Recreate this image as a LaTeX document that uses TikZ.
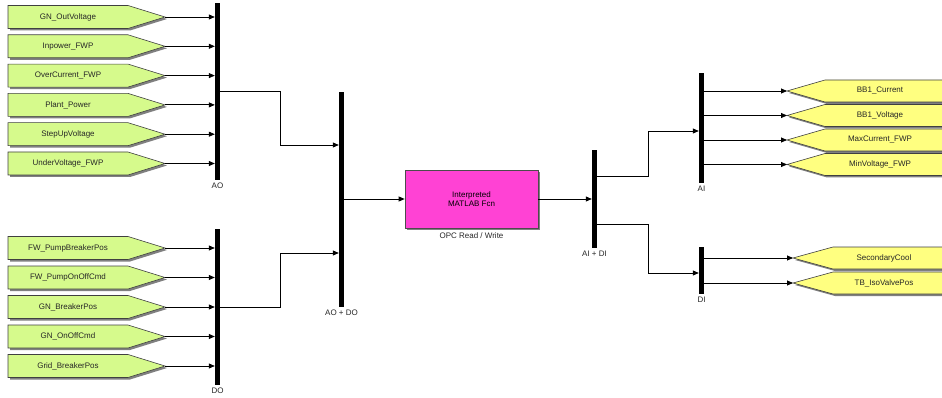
\documentclass[tikz,border=0pt]{standalone}
\usepackage{fontspec}
\setmainfont{Liberation Sans}
\usetikzlibrary{arrows.meta,positioning}
\definecolor{fromgreen}{RGB}{214,250,140}
\definecolor{gotoyellow}{RGB}{255,255,128}
\definecolor{fcnmagenta}{RGB}{255,66,212}
\begin{document}
\begin{tikzpicture}[x=1pt,y=-1pt,
  wire/.style={draw=black,line width=0.8pt},
  arr/.style={wire,-{Triangle[length=6pt,width=5pt]}},
  bus/.style={fill=black,draw=none,minimum width=5pt,inner sep=0pt},
  lbl/.style={font=\fontsize{8}{9.5}\selectfont,text=black!85,inner sep=1pt},
  shade/.style={fill=black!50,draw=none},
  greenblk/.style={fill=fromgreen,draw=black!75,line width=0.6pt},
  yellowblk/.style={fill=gotoyellow,draw=black!75,line width=0.6pt},
  fcnblk/.style={fill=fcnmagenta,draw=black!70,line width=0.7pt,align=center,
    minimum width=133pt,minimum height=58pt,inner sep=0pt,font=\fontsize{8}{9.5}\selectfont}]
\useasboundingbox (0,0) rectangle (942,398);
\clip (0,0) rectangle (942,398);

% bus bars
\node[bus,minimum height=177pt] (ao) at (217.5,91.5) {};
\node[bus,minimum height=156pt] (do) at (217.5,307) {};
\node[bus,minimum height=215pt] (aodo) at (341.5,199.5) {};
\node[bus,minimum height=98pt] (aidi) at (594.5,199) {};
\node[bus,minimum height=110pt] (ai) at (701.5,128) {};
\node[bus,minimum height=47pt] (di) at (701.5,270.5) {};
\node[lbl,below=2pt of ao.south] (aolbl) {AO};
\node[lbl,below=2pt of do.south] (dolbl) {DO};
\node[lbl,below=2pt of aodo.south] (aodolbl) {AO + DO};
\node[lbl,below=2pt of aidi.south] (aidilbl) {AI + DI};
\node[lbl,below=2pt of ai.south] (ailbl) {AI};
\node[lbl,below=2pt of di.south] (dilbl) {DI};

% green From blocks (top)
\foreach \i/\y/\t in {1/17/GN\_OutVoltage,2/46.3/Inpower\_FWP,3/75.6/OverCurrent\_FWP,4/104.9/Plant\_Power,5/134.2/StepUpVoltage,6/163.5/UnderVoltage\_FWP}{
  \fill[shade] (10,\y-9.5) -- (130,\y-9.5) -- (167,\y+2) -- (130,\y+13.5) -- (10,\y+13.5) -- cycle;
  \draw[greenblk] (8,\y-11.5) -- (128,\y-11.5) -- (165,\y) -- (128,\y+11.5) -- (8,\y+11.5) -- cycle;
  \node[lbl] (g\i) at (68,\y) {\t};
  \coordinate (gt\i) at (165,\y);
  \draw[arr] (gt\i) -- (gt\i -| ao.west);
}
% green From blocks (bottom)
\foreach \i/\y/\t in {1/248/FW\_PumpBreakerPos,2/277.5/FW\_PumpOnOffCmd,3/307/GN\_BreakerPos,4/336.5/GN\_OnOffCmd,5/366/Grid\_BreakerPos}{
  \fill[shade] (10,\y-9.5) -- (130,\y-9.5) -- (167,\y+2) -- (130,\y+13.5) -- (10,\y+13.5) -- cycle;
  \draw[greenblk] (8,\y-11.5) -- (128,\y-11.5) -- (165,\y) -- (128,\y+11.5) -- (8,\y+11.5) -- cycle;
  \node[lbl] (h\i) at (68,\y) {\t};
  \coordinate (ht\i) at (165,\y);
  \draw[arr] (ht\i) -- (ht\i -| do.west);
}

% yellow Goto blocks (AI)
\foreach \i/\y/\t in {1/91/BB1\_Current,2/115.5/BB1\_Voltage,3/140/MaxCurrent\_FWP,4/164.5/MinVoltage\_FWP}{
  \fill[shade] (789,\y+2) -- (827,\y-9) -- (950,\y-9) -- (950,\y+13) -- (827,\y+13) -- cycle;
  \draw[yellowblk] (787,\y) -- (825,\y-11) -- (950,\y-11) -- (950,\y+11) -- (825,\y+11) -- cycle;
  \node[lbl] (y\i) at (880,\y) {\t};
  \coordinate (yt\i) at (787,\y);
  \draw[arr] (ai.east |- yt\i) -- (yt\i);
}
% yellow Goto blocks (DI)
\foreach \i/\y/\t in {1/258/SecondaryCool,2/283/TB\_IsoValvePos}{
  \fill[shade] (795,\y+2) -- (835,\y-9) -- (950,\y-9) -- (950,\y+13) -- (835,\y+13) -- cycle;
  \draw[yellowblk] (793,\y) -- (833,\y-11) -- (950,\y-11) -- (950,\y+11) -- (833,\y+11) -- cycle;
  \node[lbl] (z\i) at (884,\y) {\t};
  \coordinate (zt\i) at (793,\y);
  \draw[arr] (di.east |- zt\i) -- (zt\i);
}

% MATLAB function block
\fill[shade] (407,172) rectangle (540,230);
\node[fcnblk] (fcn) at (471.5,199) {Interpreted\\MATLAB Fcn};
\node[lbl,below=3pt of fcn.south] (fcnlbl) {OPC Read / Write};

% bus wiring
\draw[arr] (ao.east) -- (280,91.5) -- (280,145) -- (aodo.west |- 0,145);
\draw[arr] (do.east) -- (280,307) -- (280,253) -- (aodo.west |- 0,253);
\draw[arr] (aodo.east |- fcn.west) -- (fcn.west);
\draw[arr] (fcn.east) -- (fcn.east -| aidi.west);
\draw[arr] (aidi.east |- 0,176) -- (648,176) -- (648,131) -- (ai.west |- 0,131);
\draw[arr] (aidi.east |- 0,224) -- (648,224) -- (648,273) -- (di.west |- 0,273);
\end{tikzpicture}
\end{document}
